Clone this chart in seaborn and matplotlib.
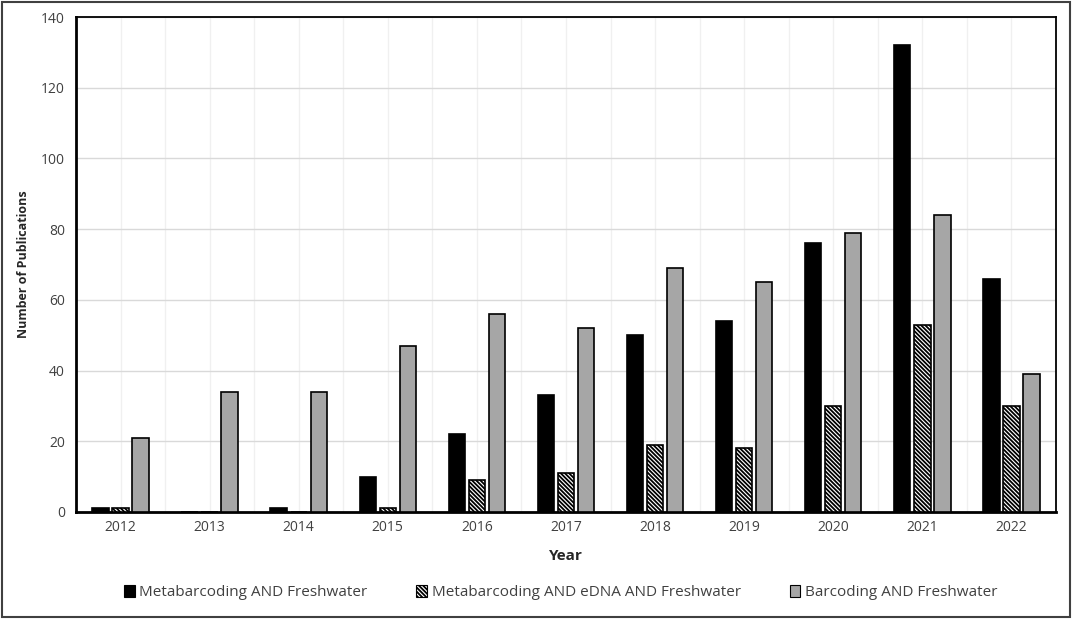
import matplotlib
matplotlib.use("Agg")
import matplotlib.pyplot as plt
import numpy as np
import pandas as pd
import seaborn as sns
from matplotlib.patches import Rectangle

# Data
years = ["2012", "2013", "2014", "2015", "2016", "2017", "2018", "2019", "2020", "2021", "2022"]
metabarcoding = [1, 0, 1, 10, 22, 33, 50, 54, 76, 132, 66]
metabarcoding_edna = [1, 0, 0, 1, 9, 11, 19, 18, 30, 53, 30]
barcoding = [21, 34, 34, 47, 56, 52, 69, 65, 79, 84, 39]
series_names = ["Metabarcoding AND Freshwater",
                "Metabarcoding AND eDNA AND Freshwater",
                "Barcoding AND Freshwater"]
series_colors = ["#000000", "#ffffff", "#a6a6a6"]
edna_hatch = "\\" * 8

df = pd.DataFrame({
    "Year": years * 3,
    "Count": metabarcoding + metabarcoding_edna + barcoding,
    "Query": np.repeat(series_names, len(years)),
})

sns.set_style("white")
plt.rcParams["font.family"] = ["Open Sans", "DejaVu Sans"]
plt.rcParams["hatch.linewidth"] = 1.3

fig = plt.figure(figsize=(10.72, 6.19), dpi=100)
ax = fig.add_axes([0.0709, 0.1729, 0.985 - 0.0709, 0.9725 - 0.1729])

sns.barplot(data=df, x="Year", y="Count", hue="Query", hue_order=series_names,
            palette=series_colors, width=0.674, gap=0.18, edgecolor="black",
            linewidth=1.2, saturation=1, ax=ax, legend=False, zorder=3)

# hatch the eDNA series
for bar in ax.containers[1]:
    bar.set_hatch(edna_hatch)

ax.set_xlim(-0.5, len(years) - 0.5)
ax.set_ylim(0, 140)
ax.set_yticks(np.arange(0, 141, 20))

# category boundaries as major ticks, labels at the centres
ax.set_xticks(np.arange(-0.5, len(years), 1.0))
ax.set_xticklabels([])
ax.set_xticks(np.arange(len(years)), minor=True)
ax.set_xticklabels(years, minor=True)
ax.tick_params(axis="x", which="major", direction="out", length=5, width=1.6, color="black")
ax.tick_params(axis="x", which="minor", length=0, pad=6, labelsize=10, labelcolor="#404040")
ax.tick_params(axis="y", direction="out", length=4, width=2, color="black",
               labelsize=10, labelcolor="#404040", pad=4)

ax.grid(axis="x", which="both", color="#f0f0f0", linewidth=1, zorder=0)
ax.grid(axis="y", which="major", color="#d9d9d9", linewidth=1, zorder=0)
ax.set_axisbelow(True)

for side in ["left", "bottom", "top", "right"]:
    ax.spines[side].set_visible(True)
    ax.spines[side].set_color("black")
ax.spines["left"].set_linewidth(2)
ax.spines["bottom"].set_linewidth(2)
ax.spines["top"].set_linewidth(1.3)
ax.spines["right"].set_linewidth(1.3)

ax.set_xlabel("Year", fontsize=11, fontweight="bold", color="#262626", labelpad=10)
ax.set_ylabel("Number of Publications", fontsize=9, fontweight="bold", color="#262626", labelpad=8)

handles = [Rectangle((0, 0), 1, 1, facecolor=c, edgecolor="black", linewidth=0.8,
                     hatch=(edna_hatch if i == 1 else None))
           for i, c in enumerate(series_colors)]
fig.legend(handles, series_names, loc="center", bbox_to_anchor=(0.523, 0.043), ncol=3,
           frameon=False, fontsize=11, handlelength=0.7, handleheight=0.9,
           handletextpad=0.3, columnspacing=3.2, labelcolor="#404040")

# outer frame around the figure
fig.patches.append(Rectangle((0.002, 0.003), 0.996, 0.994, transform=fig.transFigure,
                             fill=False, edgecolor="#404040", linewidth=1.5))

fig.savefig("out.png", dpi=100)
